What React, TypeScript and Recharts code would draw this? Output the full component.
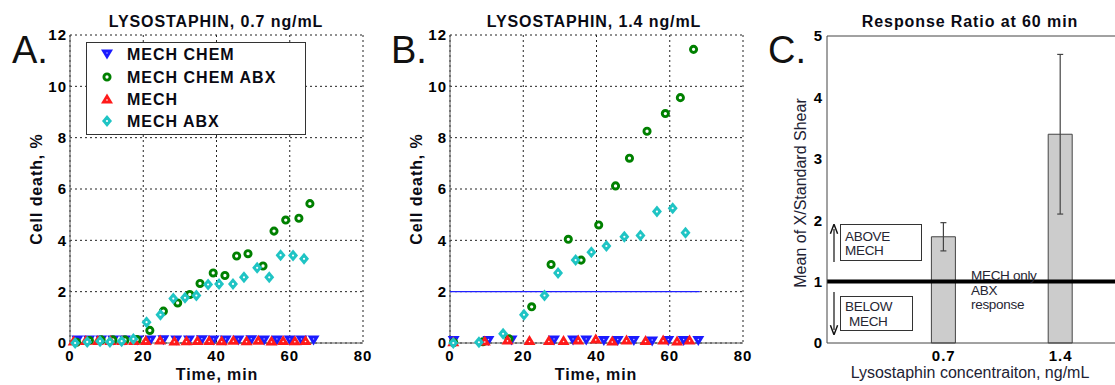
import React from "react";
import {
  ScatterChart,
  Scatter,
  XAxis,
  YAxis,
  CartesianGrid,
  ReferenceLine,
  ComposedChart,
  Bar,
  ErrorBar,
} from "recharts";

const FONT = "'Liberation Sans', Arial, Helvetica, sans-serif";

// [time (min), cell death (%)]
// panel A - lysostaphin 0.7 ng/mL
const aMechChem = [
  [2, 0.12], [5.2, 0.12], [8.5, 0.12], [11.8, 0.12], [15, 0.12], [18.5, 0.12],
  [22, 0.12], [25.5, 0.13], [29, 0.12], [32.5, 0.12], [36, 0.13], [39.2, 0.12],
  [42.5, 0.12], [46, 0.12], [49.5, 0.13], [53, 0.12], [56.5, 0.12], [60, 0.12],
  [63.2, 0.12], [66.5, 0.12],
];
const aMechChemAbx = [
  [1.8, 0.03], [5.3, 0.1], [8.5, 0.12], [11.7, 0.12], [15, 0.12], [18.3, 0.13],
  [21.8, 0.49], [25.5, 1.24], [29.4, 1.56], [32.7, 1.89], [35.5, 2.32], [39.1, 2.73],
  [42.3, 2.63], [45.5, 3.39], [48.6, 3.48], [52.7, 3.0], [55.7, 4.36], [58.9, 4.79],
  [62.5, 4.86], [65.5, 5.43],
];
const aMech = [
  [1, 0.08], [4.3, 0.1], [7.6, 0.1], [11, 0.1], [14.2, 0.1], [17.5, 0.1],
  [20.7, 0.1], [24.6, 0.12], [28.5, 0.08], [31.8, 0.09], [34.8, 0.1], [38, 0.1],
  [41.4, 0.09], [44.6, 0.11], [48.2, 0.09], [51.4, 0.11], [55, 0.08], [58.2, 0.1],
  [61.4, 0.09], [64.3, 0.1],
];
const aMechAbx = [
  [1.4, 0], [4.7, 0.04], [8.2, 0.07], [10.9, 0.04], [14.1, 0.07], [17.3, 0.16],
  [20.9, 0.81], [24.7, 1.1], [28.2, 1.73], [31.4, 1.76], [34.5, 1.85], [37.7, 2.28],
  [40.7, 2.3], [44.5, 2.3], [47.5, 2.56], [51.1, 2.93], [54.4, 2.56], [57.5, 3.42],
  [60.9, 3.41], [63.9, 3.28],
];

// panel B - lysostaphin 1.4 ng/mL
const bMechChem = [
  [1, 0.1], [10.5, 0.1], [16.8, 0.12], [28.4, 0.12], [33.6, 0.12], [37.2, 0.12],
  [42, 0.1], [45.8, 0.1], [50.2, 0.1], [55.2, 0.08], [59.6, 0.1], [63.8, 0.1],
  [67.8, 0.1],
];
const bMechChemAbx = [
  [1, 0.02], [9, 0.05], [16.1, 0.16], [22.3, 1.41], [27.6, 3.06], [32.3, 4.04],
  [35.8, 3.23], [40.6, 4.6], [45.2, 6.12], [49, 7.2], [53.8, 8.25], [58.8, 8.94],
  [62.9, 9.56], [66.5, 11.44],
];
const bMech = [
  [0.9, 0.05], [9.5, 0.08], [15.7, 0.12], [21.7, 0.1], [27, 0.1], [31, 0.1],
  [35, 0.12], [39.8, 0.16], [44.3, 0.08], [48.2, 0.12], [53.4, 0.1], [58.2, 0.12],
  [62, 0.08], [65.4, 0.12],
];
const bMechAbx = [
  [0.9, 0], [7.9, 0.03], [14.5, 0.36], [20.2, 1.1], [25.8, 1.85], [29.5, 2.73],
  [34.3, 3.23], [38.6, 3.54], [42.7, 3.78], [47.6, 4.14], [52, 4.19], [56.5, 5.12],
  [60.8, 5.25], [64.3, 4.3],
];
// horizontal blue level line in panel B: [start time, end time], level
const bRefSpan = [0, 68.2];
const bRefLevel = 2;

// panel C - response ratio at 60 min
const concentrations = ["0.7", "1.4"];
const ratios = [1.73, 3.4];
const ratioErr = [0.23, 1.3];

const timeTicks = [0, 20, 40, 60, 80];
const deathTicks = [0, 2, 4, 6, 8, 10, 12];
const ratioTicks = [0, 1, 2, 3, 4, 5];

const BLUE = "#1a1aff";
const GREEN = "#008000";
const RED = "#ff1a1a";
const CYAN = "#1fc4c4";

const triDown = (p: any) => (
  <g>
    <polygon
      points={`${p.cx - 6},${p.cy - 4.5} ${p.cx + 6},${p.cy - 4.5} ${p.cx},${p.cy + 5.5}`}
      fill={BLUE}
    />
    <circle cx={p.cx} cy={p.cy - 1} r={0.7} fill="#ccf" />
  </g>
);
const ring = (p: any) => (
  <circle cx={p.cx} cy={p.cy} r={3.1} fill="#fff" stroke={GREEN} strokeWidth={2.9} />
);
const triUp = (p: any) => (
  <g>
    <polygon
      points={`${p.cx - 6},${p.cy + 4.5} ${p.cx + 6},${p.cy + 4.5} ${p.cx},${p.cy - 5.5}`}
      fill={RED}
    />
    <circle cx={p.cx} cy={p.cy + 1} r={0.8} fill="#fff" />
  </g>
);
const diamond = (p: any) => (
  <g>
    <polygon
      points={`${p.cx},${p.cy - 6} ${p.cx + 5},${p.cy} ${p.cx},${p.cy + 6} ${p.cx - 5},${p.cy}`}
      fill={CYAN}
    />
    <circle cx={p.cx} cy={p.cy} r={1.1} fill="#fff" />
  </g>
);
const noMark = () => <g />;

const series = [
  { name: "MECH CHEM", shape: triDown },
  { name: "MECH CHEM ABX", shape: ring },
  { name: "MECH", shape: triUp },
  { name: "MECH ABX", shape: diamond },
];

const toPts = (arr: number[][]) => arr.map(([t, v]) => ({ t, v }));

const tickStyle = {
  fill: "#000",
  fontSize: 15,
  fontWeight: "bold",
  fontFamily: FONT,
  letterSpacing: 1,
};

function TimePanel(props: { left: number; sets: number[][][]; refLine?: boolean }) {
  const { left, sets, refLine } = props;
  return (
    <div style={{ position: "absolute", left, top: 0 }}>
      <ScatterChart
        width={380}
        height={385}
        margin={{ top: 35, right: 17, bottom: 12, left: 30 }}
      >
        <CartesianGrid stroke="#222" strokeDasharray="2 3" />
        <XAxis
          type="number"
          dataKey="t"
          domain={[0, 80]}
          ticks={timeTicks}
          height={30}
          tickSize={0}
          tickMargin={7}
          axisLine={{ stroke: "#555" }}
          tick={tickStyle}
          interval={0}
        />
        <YAxis
          type="number"
          dataKey="v"
          domain={[0, 12]}
          ticks={deathTicks}
          width={40}
          tickSize={0}
          tickMargin={3}
          axisLine={{ stroke: "#555" }}
          tick={tickStyle}
          interval={0}
        />
        {refLine && (
          <Scatter
            name="level"
            data={bRefSpan.map((t) => ({ t, v: bRefLevel }))}
            line={{ stroke: "#2020ff", strokeWidth: 1.2 }}
            shape={noMark}
            isAnimationActive={false}
          />
        )}
        {sets.map((s, i) => (
          <Scatter
            key={series[i].name}
            name={series[i].name}
            data={toPts(s)}
            shape={series[i].shape}
            isAnimationActive={false}
          />
        ))}
      </ScatterChart>
    </div>
  );
}

function RatioPanel() {
  const data = concentrations.map((c, i) => ({
    pos: i + 1,
    label: c,
    ratio: ratios[i],
    err: ratioErr[i],
  }));
  return (
    <div style={{ position: "absolute", left: 760, top: 0 }}>
      <ComposedChart
        width={380}
        height={385}
        data={data}
        margin={{ top: 36, right: 21, bottom: 12, left: 27 }}
      >
        <XAxis
          type="number"
          dataKey="pos"
          domain={[0, 2.5]}
          ticks={[1, 2]}
          tickFormatter={(v: number) => concentrations[v - 1]}
          height={30}
          tickSize={0}
          tickMargin={7}
          axisLine={{ stroke: "#444" }}
          tick={tickStyle}
          interval={0}
        />
        <YAxis
          type="number"
          domain={[0, 5]}
          ticks={ratioTicks}
          width={40}
          tickSize={0}
          tickMargin={4}
          axisLine={{ stroke: "#444" }}
          tick={tickStyle}
          interval={0}
        />
        <ReferenceLine y={5} stroke="#444" />
        <Bar
          dataKey="ratio"
          barSize={24}
          fill="#cccccc"
          stroke="#444"
          strokeWidth={1}
          isAnimationActive={false}
        >
          <ErrorBar dataKey="err" width={3} stroke="#444" strokeWidth={1.2} direction="y" />
        </Bar>
        <ReferenceLine y={1} stroke="#000" strokeWidth={4} />
      </ComposedChart>
    </div>
  );
}

const boldText = {
  fontFamily: FONT,
  fontWeight: "bold" as const,
  fontSize: 16,
  letterSpacing: 0.9,
  fill: "#0a0a14",
};
const noteText = {
  fontFamily: FONT,
  fontSize: 13.5,
  fill: "#262633",
  letterSpacing: -0.3,
};

function Overlay() {
  const rows = [54, 77, 99, 121];
  return (
    <svg
      width={1115}
      height={385}
      style={{ position: "absolute", left: 0, top: 0, pointerEvents: "none" }}
    >
      <defs>
        <marker id="ah" markerWidth="8" markerHeight="8" refX="4" refY="4" orient="auto">
          <path d="M0,1 L8,4 L0,7" fill="none" stroke="#111" strokeWidth={1.2} />
        </marker>
      </defs>

      {/* panel letters */}
      <text x={12} y={63} fontFamily={FONT} fontSize={38} fill="#111">A.</text>
      <text x={391} y={63} fontFamily={FONT} fontSize={38} fill="#111">B.</text>
      <text x={768} y={63} fontFamily={FONT} fontSize={38} fill="#111">C.</text>

      {/* titles */}
      <text x={216} y={27} textAnchor="middle" {...boldText}>LYSOSTAPHIN, 0.7 ng/mL</text>
      <text x={594} y={27} textAnchor="middle" {...boldText}>LYSOSTAPHIN, 1.4 ng/mL</text>
      <text x={970} y={27} textAnchor="middle" {...boldText}>Response Ratio at 60 min</text>

      {/* axis labels */}
      <text x={217} y={380} textAnchor="middle" {...boldText}>Time, min</text>
      <text x={596} y={380} textAnchor="middle" {...boldText}>Time, min</text>
      <text x={41.5} y={189} textAnchor="middle" transform="rotate(-90 41.5 189)" {...boldText}>
        Cell death, %
      </text>
      <text x={421.5} y={189} textAnchor="middle" transform="rotate(-90 421.5 189)" {...boldText}>
        Cell death, %
      </text>
      <text
        x={806}
        y={193}
        textAnchor="middle"
        transform="rotate(-90 806 193)"
        fontFamily={FONT}
        fontSize={16}
        fill="#222233"
      >
        Mean of X/Standard Shear
      </text>
      <text x={970} y={378} textAnchor="middle" fontFamily={FONT} fontSize={16} fill="#222233">
        Lysostaphin concentraiton, ng/mL
      </text>

      {/* legend panel A */}
      <rect x={86.5} y={42.5} width={219} height={92} fill="#fff" stroke="#333" strokeWidth={1} />
      {series.map((s, i) => (
        <g key={s.name}>
          {s.shape({ cx: 107, cy: rows[i] })}
          <text x={127} y={rows[i] + 6} {...boldText} letterSpacing={1}>
            {s.name}
          </text>
        </g>
      ))}

      {/* annotations panel C */}
      <rect x={840.5} y={224.5} width={81} height={36} fill="#fff" stroke="#333" />
      <text x={845} y={241} {...noteText}>ABOVE</text>
      <text x={845} y={255} {...noteText}>MECH</text>
      <rect x={840.5} y={296.5} width={72} height={34} fill="#fff" stroke="#333" />
      <text x={845} y={311} {...noteText}>BELOW</text>
      <text x={849} y={326} {...noteText}>MECH</text>
      <line x1={834} y1={262} x2={834} y2={229} stroke="#111" strokeWidth={1.2} markerEnd="url(#ah)" />
      <line x1={834} y1={292} x2={834} y2={330} stroke="#111" strokeWidth={1.2} markerEnd="url(#ah)" />
      <text x={971} y={280} {...noteText}>MECH only</text>
      <text x={971} y={295} {...noteText}>ABX</text>
      <text x={971} y={309} {...noteText}>response</text>
    </svg>
  );
}

export default function App() {
  return (
    <div
      style={{
        position: "absolute",
        left: 0,
        top: 0,
        width: 1115,
        height: 385,
        overflow: "hidden",
        background: "#fff",
      }}
    >
      <TimePanel left={0} sets={[aMechChem, aMechChemAbx, aMech, aMechAbx]} />
      <TimePanel left={380} sets={[bMechChem, bMechChemAbx, bMech, bMechAbx]} refLine />
      <RatioPanel />
      <Overlay />
    </div>
  );
}
